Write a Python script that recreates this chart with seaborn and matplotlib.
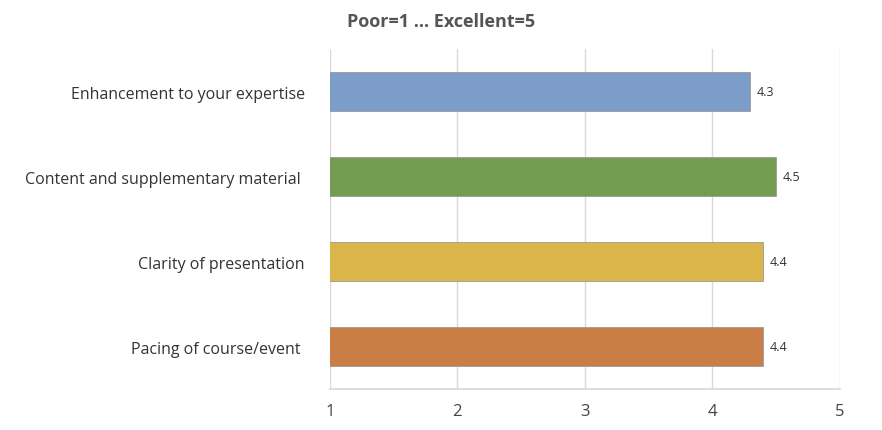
import matplotlib
matplotlib.use("Agg")
import matplotlib.pyplot as plt
import seaborn as sns
import pandas as pd

categories = ["Enhancement to your expertise", "Content and supplementary material ",
              "Clarity of presentation", "Pacing of course/event "]
values = [4.3, 4.5, 4.4, 4.4]
colors = ["#6F9BD4", "#74A844", "#F2C232", "#E07A30"]
ticks = [1, 2, 3, 4, 5]

sns.set_theme(style="white")
plt.rcParams['font.family'] = ['Open Sans', 'DejaVu Sans']

df = pd.DataFrame({"cat": categories, "val": values})
fig = plt.figure(figsize=(8.82, 4.31), dpi=100)
ax = fig.add_axes([0.374, 0.095, 0.578, 0.789])
sns.barplot(data=df, x="val", y="cat", hue="cat", palette=colors, legend=False,
            orient="h", width=0.45, ax=ax, zorder=3)
for p in ax.patches:
    p.set_edgecolor("#9a9a9a"); p.set_linewidth(0.6)
ax.set_xlim(1, 5.0)
ax.set_xticks(ticks)
ax.set_xticklabels([str(t) for t in ticks], fontsize=12, color="#444444")
ax.grid(axis="x", color="#d9d9d9", linewidth=1, zorder=0)
for s in ["top", "right", "left"]:
    ax.spines[s].set_visible(False)
ax.spines["bottom"].set_color("#d9d9d9")
ax.tick_params(axis="y", length=0, labelsize=11.5, labelcolor="#333333", pad=18)
ax.tick_params(axis="x", length=0, pad=10)
ax.set_xlabel(""); ax.set_ylabel("")
for i, v in enumerate(values):
    ax.text(v + 0.05, i, f"{v}", va="center", ha="left", fontsize=9, color="#333333")
fig.text(0.5, 0.95, "Poor=1 ... Excellent=5", ha="center", va="center",
         fontsize=13, fontweight="bold", color="#555555")
fig.savefig("out.png", dpi=100)
